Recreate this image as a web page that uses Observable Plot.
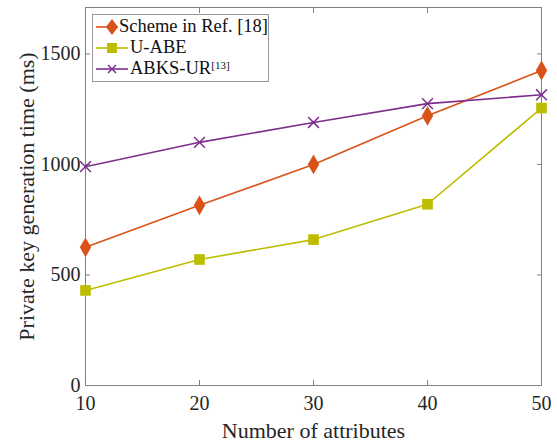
<!DOCTYPE html>
<html><head><meta charset="utf-8">
<script src="https://cdn.jsdelivr.net/npm/d3@7"></script>
<script src="https://cdn.jsdelivr.net/npm/@observablehq/plot@0.6"></script>
<style>
body{margin:0;background:#fff;}
#wrap{position:relative;width:557px;height:441px;font-family:"Liberation Serif","Times New Roman",serif;}
#chart svg text{font-family:"Liberation Serif","Times New Roman",serif !important;font-weight:normal;}
#legend{position:absolute;left:92px;top:14px;width:177px;box-sizing:border-box;background:#fff;border:1px solid #999;font-size:18.5px;line-height:21px;padding:1px 0 2px 0;white-space:nowrap;color:#111;}
.row{display:flex;align-items:center;height:21px;}
.row svg{margin-left:2px;margin-right:1px;}
sup{font-size:11px;vertical-align:top;position:relative;top:-3px;}
</style></head>
<body><div id="wrap"><div id="chart"></div><div id="legend"></div></div>
<script>
const attributes = [10, 20, 30, 40, 50];
const schemeRef18 = [625, 815, 1000, 1220, 1425];
const uABE = [430, 570, 660, 820, 1255];
const abksUR = [990, 1100, 1190, 1275, 1315];
const seriesNames = ["Scheme in Ref. [18]", "U-ABE", "ABKS-UR"];
const colors = ["#D95319", "#BDBD00", "#7E2F8E"];
const symbols = ["diamond", "square", "times"];
const yTicks = [0, 500, 1000, 1500];

const rows = [];
[schemeRef18, uABE, abksUR].forEach((vals, i) => {
  vals.forEach((v, j) => rows.push({x: attributes[j], y: v, s: seriesNames[i]}));
});
const grey = "#808080";
const font = "Liberation Serif";
const chart = Plot.plot({
  width: 557, height: 441,
  marginLeft: 85, marginRight: 16, marginTop: 7, marginBottom: 56,
  style: {fontFamily: font, fontSize: "20px", color: "#262626", background: "white"},
  x: {domain: [10, 50], ticks: attributes},
  y: {domain: [0, 1710], ticks: yTicks},
  marks: [
    Plot.frame({stroke: grey, strokeWidth: 1}),
    Plot.axisX({anchor: "bottom", ticks: attributes, tickSize: 0, tickPadding: 10, tickFormat: d3.format("d"), label: "Number of attributes", labelAnchor: "center", labelArrow: "none", labelOffset: 52, fontSize: 20}),
    Plot.axisX({anchor: "bottom", ticks: attributes, tickSize: -5, text: null, label: null, stroke: grey}),
    Plot.axisX({anchor: "top", ticks: attributes, tickSize: -5, text: null, label: null, stroke: grey}),
    Plot.axisY({anchor: "left", ticks: yTicks, tickSize: 0, tickPadding: 5, tickFormat: d3.format("d"), label: "Private key generation time (ms)", labelAnchor: "center", labelArrow: "none", labelOffset: 67, fontSize: 20}),
    Plot.axisY({anchor: "left", ticks: yTicks, tickSize: -5, text: null, label: null, stroke: grey}),
    Plot.axisY({anchor: "right", ticks: yTicks, tickSize: -5, text: null, label: null, stroke: grey}),
    Plot.line(rows, {x: "x", y: "y", stroke: "s", strokeWidth: 1.6}),
    Plot.dot(rows.filter(d => d.s !== "ABKS-UR"), {x: "x", y: "y", fill: "s", symbol: "s", r: 6, stroke: "none"}),
    Plot.dot(rows.filter(d => d.s === "ABKS-UR"), {x: "x", y: "y", stroke: "s", symbol: "s", r: 5, strokeWidth: 1.5})
  ],
  color: {domain: seriesNames, range: colors},
  symbol: {domain: seriesNames, range: symbols}
});
document.getElementById("chart").appendChild(chart);
d3.select(chart).selectAll("[aria-label='x-axis label'] text, [aria-label='y-axis label'] text").style("font-size", "22px");

const legend = document.getElementById("legend");
seriesNames.forEach((name, i) => {
  const row = document.createElement("div");
  row.className = "row";
  let marker;
  if (symbols[i] === "diamond") marker = `<path d="M17,1 L23,9 L17,17 L11,9 Z" fill="${colors[i]}"/>`;
  else if (symbols[i] === "square") marker = `<rect x="12" y="4" width="10" height="10" fill="${colors[i]}"/>`;
  else marker = `<path d="M13,5 L21,13 M21,5 L13,13" stroke="${colors[i]}" stroke-width="1.5"/>`;
  row.innerHTML = `<svg width="34" height="18"><line x1="1" x2="33" y1="9" y2="9" stroke="${colors[i]}" stroke-width="1.6"/>${marker}</svg><span>${name === "ABKS-UR" ? "ABKS-UR<sup>[13]</sup>" : name}</span>`;
  legend.appendChild(row);
});
</script>
</body></html>
